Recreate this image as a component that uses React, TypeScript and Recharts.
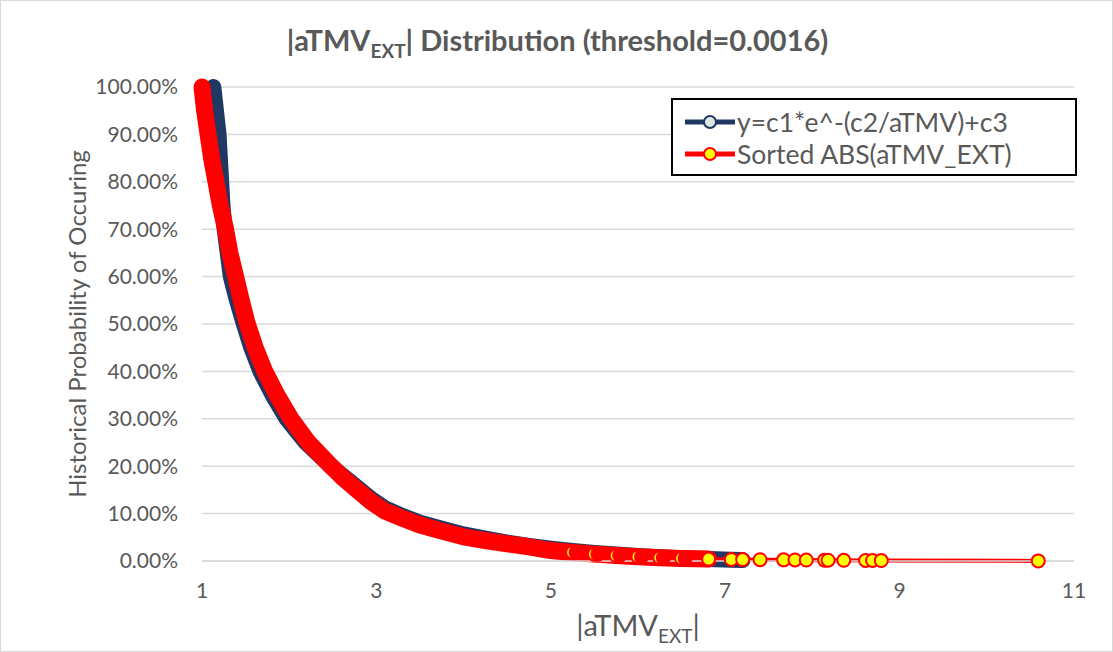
import { ComposedChart, Line, XAxis, YAxis, CartesianGrid } from "recharts";

// Sorted ABS(aTMV_EXT) vs historical probability (%)
const sortedX = [
  1.0, 1.03, 1.07, 1.11, 1.16, 1.21, 1.27, 1.32, 1.385, 1.45, 1.52, 1.61, 1.72, 1.86, 2.02, 2.22, 2.48,
  2.62, 2.78, 2.94, 3.1, 3.3, 3.5, 3.75, 4.0, 4.25, 4.5, 4.75, 5.0, 5.25, 5.5, 5.75, 6.0, 6.25, 6.5,
  6.81, 7.07, 7.2, 7.4, 7.67, 7.8, 7.93, 8.14, 8.18, 8.36, 8.61, 8.69, 8.79, 10.59,
];
const sortedY = [
  100, 95, 90, 85, 80, 75, 70, 65, 60, 55, 50, 45, 40, 35, 30, 25, 20,
  17.5, 15, 12.5, 10.5, 9, 7.6, 6.3, 5.1, 4.3, 3.6, 3.0, 2.2, 1.8, 1.45, 1.15, 0.9, 0.7, 0.55,
  0.4, 0.33, 0.3, 0.27, 0.24, 0.22, 0.2, 0.18, 0.17, 0.15, 0.12, 0.11, 0.1, 0.02,
];

// fitted curve y=c1*e^-(c2/aTMV)+c3
const fitX = [
  1.13, 1.16, 1.19, 1.205, 1.22, 1.235, 1.26, 1.295, 1.33, 1.4, 1.48, 1.565, 1.67, 1.81, 1.97, 2.19,
  2.46, 2.62, 2.78, 2.94, 3.1, 3.3, 3.5, 3.75, 4.0, 4.25, 4.5, 4.75, 5.0, 5.25, 5.5, 5.75, 6.0, 6.25,
  6.5, 6.81, 7.07, 7.2,
];
const fitY = [
  100, 95, 90, 85, 80, 75, 70, 65, 60, 55, 50, 45, 40, 35, 30, 25,
  20.3, 17.9, 15.5, 13.1, 11.1, 9.5, 8.1, 6.8, 5.6, 4.7, 3.9, 3.2, 2.6, 2.1, 1.7, 1.35, 1.05, 0.8,
  0.6, 0.4, 0.25, 0.2,
];

const xTicks = [1, 3, 5, 7, 9, 11];
const yTicks = [0, 10, 20, 30, 40, 50, 60, 70, 80, 90, 100];

const sortedData = sortedX.map((x, i) => ({ x, y: sortedY[i] }));
const denseData = sortedData.filter((d) => d.y >= 0.4);
const fitData = fitX.map((x, i) => ({ x, y: fitY[i] }));

const NAVY = "#1F3864";
const RED = "#FF0000";
const YELLOW = "#FFFF00";
const GREY = "#595959";
const FONT = "Lato, 'Noto Sans', sans-serif";

const legendItems = [
  { name: "y=c1*e^-(c2/aTMV)+c3", stroke: NAVY, fill: "#DFE8E0" },
  { name: "Sorted ABS(aTMV_EXT)", stroke: RED, fill: YELLOW },
];

// dense markers overlap: only a yellow sliver shows; sparse ones are whole
const redDot = (props: any) => {
  const { cx, cy, payload, index } = props;
  if (payload.x < 5.2) return <g key={`rd-${index}`} />;
  if (payload.x < 6.7) {
    return (
      <g key={`rd-${index}`}>
        <circle cx={cx} cy={cy} r={6.5} fill={YELLOW} stroke={RED} strokeWidth={2} />
        <circle cx={cx + 3.5} cy={cy} r={7.5} fill={RED} />
      </g>
    );
  }
  return (
    <circle key={`rd-${index}`} cx={cx} cy={cy} r={6.5} fill={YELLOW} stroke={RED} strokeWidth={2} />
  );
};

function ChartLegend() {
  return (
    <div
      style={{
        position: "absolute",
        left: 670,
        top: 97,
        border: "2px solid #000",
        background: "#fff",
        width: 406,
        height: 78,
        boxSizing: "border-box",
        padding: "6px 0 0 11px",
        fontSize: 26.5,
        color: GREY,
      }}
    >
      {legendItems.map((e) => (
        <div key={e.name} style={{ display: "flex", alignItems: "center", height: 32 }}>
          <svg width={52} height={16} style={{ marginRight: 1 }}>
            <line x1={1} y1={8} x2={51} y2={8} stroke={e.stroke} strokeWidth={5} />
            <circle cx={26} cy={8} r={6} fill={e.fill} stroke={e.stroke} strokeWidth={2} />
          </svg>
          <span>{e.name}</span>
        </div>
      ))}
    </div>
  );
}

export default function App() {
  return (
    <div
      style={{
        position: "absolute",
        left: 0,
        top: 0,
        width: 1113,
        height: 652,
        background: "#fff",
        border: "1px solid #d9d9d9",
        boxSizing: "border-box",
        fontFamily: FONT,
        color: GREY,
      }}
    >
      <ComposedChart
        width={1113}
        height={652}
        margin={{ top: 86, right: 40, bottom: 52, left: 81 }}
        style={{ position: "absolute", left: 0, top: 0 }}
      >
        <CartesianGrid vertical={false} stroke="#d9d9d9" strokeWidth={1.5} />
        <XAxis
          type="number"
          dataKey="x"
          domain={[1, 11]}
          ticks={xTicks}
          allowDuplicatedCategory={false}
          axisLine={{ stroke: "#d9d9d9", strokeWidth: 1.5 }}
          tickLine={false}
          tickMargin={16}
          height={40}
          tick={{ fill: GREY, fontSize: 21, fontFamily: FONT }}
        />
        <YAxis
          type="number"
          dataKey="y"
          domain={[0, 100]}
          ticks={yTicks}
          axisLine={false}
          tickLine={false}
          tickMargin={18}
          width={120}
          tickFormatter={(v: number) => `${v.toFixed(2)}%`}
          tick={{ fill: GREY, fontSize: 21, fontFamily: FONT }}
        />
        <Line
          data={fitData}
          dataKey="y"
          name="y=c1*e^-(c2/aTMV)+c3"
          stroke={NAVY}
          strokeWidth={16}
          strokeLinecap="round"
          strokeLinejoin="round"
          dot={false}
          isAnimationActive={false}
        />
        <Line
          data={denseData}
          dataKey="y"
          name="band"
          legendType="none"
          stroke={RED}
          strokeWidth={17}
          strokeLinecap="round"
          strokeLinejoin="round"
          dot={false}
          isAnimationActive={false}
        />
        <Line
          data={sortedData}
          dataKey="y"
          name="Sorted ABS(aTMV_EXT)"
          stroke={RED}
          strokeWidth={4}
          dot={redDot}
          isAnimationActive={false}
        />
      </ComposedChart>
      <div
        style={{
          position: "absolute",
          top: 21,
          left: 0,
          width: 1113,
          textAlign: "center",
          fontSize: 29,
          fontWeight: 700,
        }}
      >
        |aTMV<sub style={{ fontSize: 19 }}>EXT</sub>| Distribution (threshold=0.0016)
      </div>
      <div
        style={{
          position: "absolute",
          left: 75,
          top: 323,
          transform: "translate(-50%, -50%) rotate(-90deg)",
          whiteSpace: "nowrap",
          fontSize: 24,
        }}
      >
        Historical Probability of Occuring
      </div>
      <div
        style={{
          position: "absolute",
          top: 606,
          left: 0,
          width: 1274,
          textAlign: "center",
          fontSize: 29,
        }}
      >
        |aTMV<sub style={{ fontSize: 19 }}>EXT</sub>|
      </div>
      <ChartLegend />
    </div>
  );
}
